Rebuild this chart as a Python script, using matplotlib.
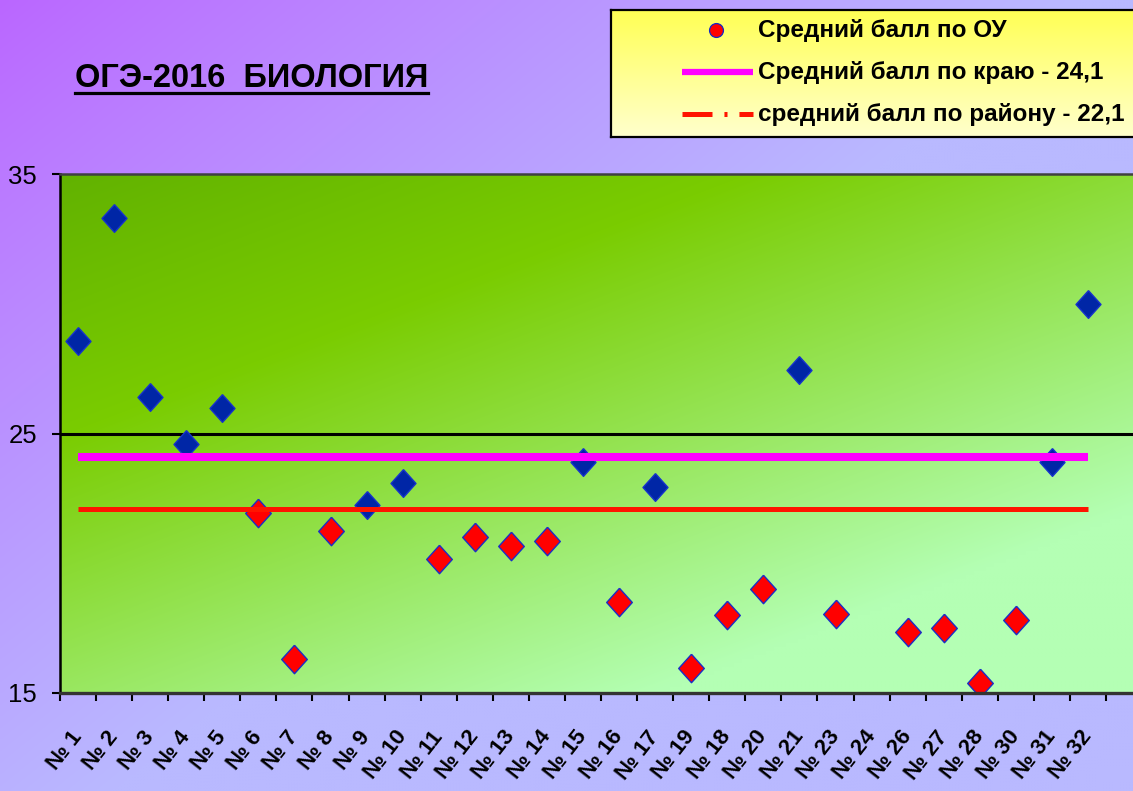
import numpy as np
import matplotlib
matplotlib.use('Agg')
import matplotlib.pyplot as plt
from matplotlib import font_manager
from matplotlib.lines import Line2D
from matplotlib.colors import to_rgb

# ---------------- data ----------------
schools = ['№ 1', '№ 2', '№ 3', '№ 4', '№ 5', '№ 6', '№ 7', '№ 8', '№ 9', '№ 10',
           '№ 11', '№ 12', '№ 13', '№ 14', '№ 15', '№ 16', '№ 17', '№ 19', '№ 18',
           '№ 20', '№ 21', '№ 23', '№ 24', '№ 26', '№ 27', '№ 28', '№ 30', '№ 31', '№ 32']
scores = [28.55, 33.3, 26.4, 24.6, 26.0, 21.95, 16.3, 21.25, 22.25, 23.1,
          20.15, 21.0, 20.65, 20.85, 23.9, 18.5, 22.95, 15.95, 18.0,
          19.0, 27.45, 18.05, np.nan, 17.35, 17.5, 15.4, 17.8, 23.9, 30.0]
krai_avg = 24.1
district_avg = 22.1
y_ticks = [15, 25, 35]
title_text = 'ОГЭ-2016  БИОЛОГИЯ'
legend_labels = ['Средний балл по ОУ',
                 'Средний балл по краю - 24,1',
                 'средний балл по району - 22,1']

# ---------------- fonts ----------------
names = {f.name for f in font_manager.fontManager.ttflist}
BASE = 'Liberation Sans' if 'Liberation Sans' in names else 'DejaVu Sans'
NARROW = 'Liberation Sans Narrow' if 'Liberation Sans Narrow' in names else None
plt.rcParams['font.family'] = [BASE, 'DejaVu Sans']
plt.rcParams['lines.scale_dashes'] = False

W, H = 1133, 791
fig = plt.figure(figsize=(W / 100, H / 100), dpi=100)


def fx(x):
    return x / W


def fy(y):
    return 1 - y / H


# ---------------- figure background gradient ----------------
yy, xx = np.mgrid[0:H:3, 0:W:3]
t = np.clip(1.05 * xx / W + 0.9 * yy / H, 0, 1) ** 0.9
c0 = np.array(to_rgb('#BB66FF'))
c1 = np.array(to_rgb('#B9B9FF'))
bg_img = c0 + (c1 - c0) * t[..., None]
bg = fig.add_axes([0, 0, 1, 1], zorder=-10)
bg.imshow(bg_img, aspect='auto', extent=[0, 1, 0, 1], interpolation='bilinear')
bg.set_xlim(0, 1)
bg.set_ylim(0, 1)
bg.axis('off')

# ---------------- main axes ----------------
PX0, PX1, PY0, PY1 = 60, 1140, 174, 693
cat_w = 36.07
ax = fig.add_axes([fx(PX0), fy(PY1), (PX1 - PX0) / W, (PY1 - PY0) / H])

gh, gw = 130, 270
gy, gx = np.mgrid[0:gh, 0:gw]
tn = np.clip(0.55 * gx / (gw * 1073 / 1080) + 0.7 * gy / gh, 0, 1)
s0 = np.array(to_rgb('#62B200'))
s1 = np.array(to_rgb('#7ACC00'))
s2 = np.array(to_rgb('#B4FFB4'))
g = np.where(tn[..., None] < 0.35,
             s0 + (s1 - s0) * (tn[..., None] / 0.35),
             s1 + (s2 - s1) * ((tn[..., None] - 0.35) / 0.65))
ax.imshow(g, extent=[0, 1, 0, 1], transform=ax.transAxes, aspect='auto',
          interpolation='bilinear', zorder=0)

n = len(schools)
x = np.arange(n)
s = np.array(scores, dtype=float)
valid = ~np.isnan(s)
above = valid & (s > district_avg)
below = valid & ~(s > district_avg)

diamond = [(0, 1), (0.9, 0), (0, -1), (-0.9, 0), (0, 1)]

ax.axhline(25, color='black', lw=2.2, zorder=2)
ax.plot(x[above], s[above], ls='none', marker=diamond, ms=20,
        mfc='#0026A6', mec='#1633CC', mew=1.0, zorder=4)
ax.plot(x[below], s[below], ls='none', marker=diamond, ms=20.5,
        mfc='#FF0000', mec='#1a2ec8', mew=1.0, zorder=4)
ax.plot([0, n - 1], [krai_avg, krai_avg], color='#FF00FF', lw=5.8,
        solid_capstyle='butt', zorder=5)
ax.plot([0, n - 1], [district_avg, district_avg], color='#FF1400', lw=3.6,
        solid_capstyle='butt', zorder=5)

ax.set_xlim(-0.5, -0.5 + (PX1 - PX0) / cat_w)
ax.set_ylim(15, 35)

ax.spines['right'].set_visible(False)
ax.spines['left'].set_color('black')
ax.spines['left'].set_linewidth(1.8)
ax.spines['top'].set_color('#404040')
ax.spines['top'].set_linewidth(1.8)
ax.spines['bottom'].set_color('#333333')
ax.spines['bottom'].set_linewidth(2.4)
for sp in ax.spines.values():
    sp.set_zorder(6)

ytick_family = [NARROW, BASE] if NARROW else [BASE]
ytick_size = 20 if NARROW else 18.5
ax.set_yticks(y_ticks)
ax.set_yticklabels([str(v) for v in y_ticks], fontsize=ytick_size,
                   family=ytick_family + ['DejaVu Sans'])
ax.tick_params(axis='y', direction='out', length=5.5, width=1.5, pad=11,
               colors='black')

ax.set_xticks(x)
ax.set_xticklabels(schools, rotation=52, ha='right', va='center',
                   rotation_mode='anchor', fontsize=16, fontweight='bold')
ax.tick_params(axis='x', which='major', length=0, pad=29)
ax.set_xticks(np.arange(-0.5, n + 0.5, 1), minor=True)
ax.tick_params(axis='x', which='minor', direction='out', length=6, width=1.5,
               colors='black')
ax.patch.set_visible(False)

# ---------------- legend box ----------------
LX0, LX1, LY0, LY1 = 611, 1140, 10, 137
lax = fig.add_axes([fx(LX0), fy(LY1), (LX1 - LX0) / W, (LY1 - LY0) / H], zorder=5)
yl = np.linspace(0, 1, 64)[:, None] * np.ones((1, 4))
ya = np.array(to_rgb('#FFFF55'))
yb = np.array(to_rgb('#FFFFCC'))
lg = ya + (yb - ya) * yl[..., None]
lax.imshow(lg, extent=[0, 1, 0, 1], aspect='auto', interpolation='bilinear')
lax.set_xlim(0, 1)
lax.set_ylim(0, 1)
lax.set_xticks([])
lax.set_yticks([])
for sp in lax.spines.values():
    sp.set_color('black')
    sp.set_linewidth(1.6)


def lx(p):
    return (p - LX0) / (LX1 - LX0)


def ly(p):
    return (LY1 - p) / (LY1 - LY0)


lax.plot([lx(716)], [ly(30)], marker='o', ms=10, mfc='#FF0000', mec='#1428C8',
         mew=0.9, ls='none')
lax.plot([lx(682), lx(753)], [ly(72), ly(72)], color='#FF00FF', lw=4.5,
         solid_capstyle='butt')
dl, = lax.plot([lx(682), lx(753)], [ly(114), ly(114)], color='#FF1400', lw=3.6,
               dash_capstyle='butt')
dl.set_dashes([21.6, 8.6, 2.2, 8.6])
for label, yp in zip(legend_labels, [30, 72, 114]):
    lax.text(lx(758), ly(yp), label, fontsize=17.5, fontweight='bold',
             va='center', ha='left', color='black')

# ---------------- title ----------------
if NARROW:
    title = fig.text(fx(75), fy(87), title_text, fontsize=27, fontweight='bold',
                     family=[NARROW, BASE, 'DejaVu Sans'], va='baseline', ha='left')
else:
    title = fig.text(fx(75), fy(87), title_text, fontsize=23.5, fontweight='bold',
                     va='baseline', ha='left')
fig.canvas.draw()
bb = title.get_window_extent()
fig.add_artist(Line2D([bb.x0 / W, bb.x1 / W], [fy(92.5), fy(92.5)],
                      color='black', lw=2.3, transform=fig.transFigure))

fig.savefig('out.png', dpi=100)
